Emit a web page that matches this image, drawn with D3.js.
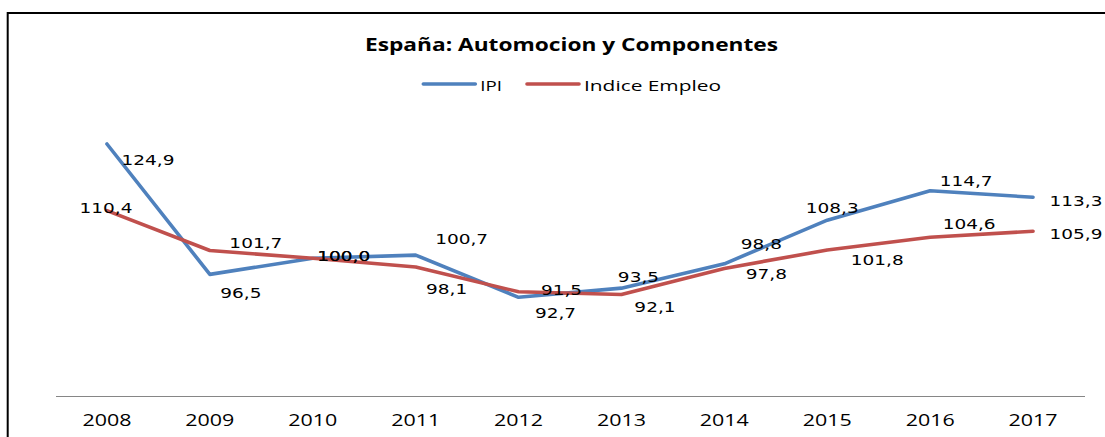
<!DOCTYPE html>
<html><head><meta charset="utf-8">
<script src="https://cdn.jsdelivr.net/npm/d3@7"></script>
<style>body{margin:0;background:#fff;} svg{display:block;}</style>
</head><body>
<svg id="c" width="1105" height="437"></svg>
<script>
const years = ["2008","2009","2010","2011","2012","2013","2014","2015","2016","2017"];
const ipi = [124.9, 96.5, 100.0, 100.7, 91.5, 93.5, 98.8, 108.3, 114.7, 113.3];
const empleo = [110.4, 101.7, 100.0, 98.1, 92.7, 92.1, 97.8, 101.8, 104.6, 105.9];
const seriesNames = ["IPI", "Indice Empleo"];
const title = "España: Automocion y Componentes";
// label placement offsets (layout only): [dx, dy] from the point
const ipiLabelOffsets = [[41,16],[31,19],[31,-2],[46,-16],[43,-7],[17,-11.5],[37,-20],[5,-12],[36,-10],[43,3.4]];
const empLabelOffsets = [[-1,-2.6],[46,-8],[31,-2],[31,22],[37,21.5],[33.5,12],[42,5.6],[50,10],[39,-13],[43,2.6]];

const colors = ["#4F81BD", "#C0504D"];
const svg = d3.select("#c");
const fmt = v => d3.format(".1f")(v).replace(".", ",");

function stretchTo(sel, width) {
  sel.attr("textLength", width).attr("lengthAdjust","spacingAndGlyphs");
}
function stretch(sel, factor) {
  sel.each(function(){
    const n = this.getComputedTextLength();
    d3.select(this).attr("textLength", n*factor).attr("lengthAdjust","spacingAndGlyphs");
  });
}

// frame
svg.append("rect").attr("x",7.7).attr("y",13).attr("width",1110).attr("height",450)
  .attr("fill","none").attr("stroke","#000").attr("stroke-width",2);

const x = d3.scaleBand().domain(years).range([55.5, 1084.5]).padding(0);
const y = d3.scaleLinear().domain([70, 130]).range([396, 396 - 60*4.59]);
const cx = d => x(d) + x.bandwidth()/2;

// axis
const ax = svg.append("g").attr("transform","translate(0,396)")
  .call(d3.axisBottom(x).tickSize(0).tickPadding(19));
ax.select(".domain").attr("stroke","#868686").attr("stroke-width",1.2);
ax.selectAll("text").attr("font-family","Open Sans").attr("font-size","16px").attr("fill","#000");
stretchTo(ax.selectAll("text"), 49);

// lines
const line = d3.line().x(d => cx(d.year)).y(d => y(d.v));
const data = [ipi, empleo].map(arr => years.map((yr,i)=>({year:yr, v:arr[i]})));
data.forEach((s,k)=>{
  svg.append("path").datum(s).attr("d", line).attr("fill","none")
    .attr("stroke", colors[k]).attr("stroke-width",3.6).attr("stroke-linejoin","round").attr("stroke-linecap","round");
});

// labels
[[data[0], ipiLabelOffsets],[data[1], empLabelOffsets]].forEach(([s,offs])=>{
  const t = svg.append("g").selectAll("text").data(s).join("text")
    .attr("x",(d,i)=>cx(d.year)+offs[i][0])
    .attr("y",(d,i)=>y(d.v)+offs[i][1])
    .attr("dy","0.36em")
    .attr("text-anchor","middle")
    .attr("font-family","DejaVu Sans").attr("font-size","14px").attr("fill","#000")
    .text(d=>fmt(d.v));
  stretch(t, 1.32);
});

// title
svg.append("text").attr("x",571.5).attr("y",50.7).attr("text-anchor","middle")
  .attr("font-family","Open Sans").attr("font-weight","bold").attr("font-size","18px")
  .attr("textLength",413).attr("lengthAdjust","spacingAndGlyphs").text(title);

// legend
const legX = [423.3, 527];
const legW = [21.7, 137];
seriesNames.forEach((nm,k)=>{
  svg.append("line").attr("x1",legX[k]).attr("x2",legX[k]+52).attr("y1",84).attr("y2",84)
    .attr("stroke",colors[k]).attr("stroke-width",3.6).attr("stroke-linecap","round");
  svg.append("text").attr("x",legX[k]+57).attr("y",90.7)
    .attr("font-family","Open Sans").attr("font-size","14.5px").attr("fill","#000")
    .attr("textLength",legW[k]).attr("lengthAdjust","spacingAndGlyphs").text(nm);
});
</script>
</body></html>
